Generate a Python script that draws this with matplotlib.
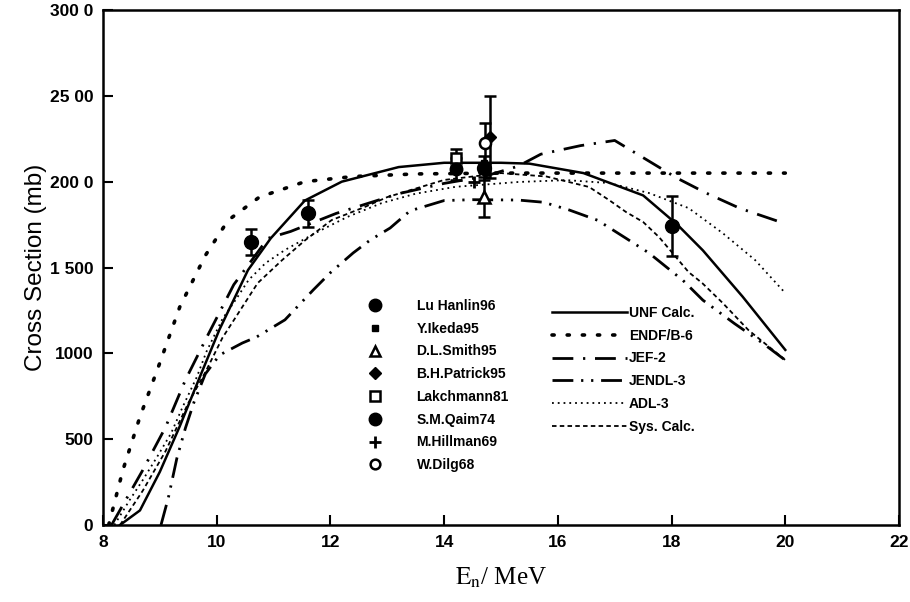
import matplotlib.pyplot as plt
from matplotlib.lines import Line2D

# ---- calculated / evaluated curves (E in MeV, sigma in mb) ----
unf_e = [8.3, 8.65, 9.0, 9.35, 9.7, 10.05, 10.55, 10.95, 11.55, 12.2, 13.2, 14.0,
         15.0, 15.5, 16.45, 17.5, 18.1, 18.55, 19.25, 20.0]
unf_v = [0, 85, 310, 575, 860, 1140, 1485, 1670, 1890, 2000, 2085, 2110,
         2110, 2105, 2050, 1920, 1750, 1600, 1330, 1020]

endf_e = [8.1, 8.35, 8.65, 9.0, 9.35, 9.8, 10.2, 10.75, 11.55, 12.4, 13.5, 15.0, 17.0, 20.0]
endf_v = [0, 320, 630, 945, 1270, 1570, 1775, 1910, 2000, 2030, 2045, 2050, 2050, 2050]

jef_e = [8.15, 8.7, 9.1, 9.45, 9.85, 10.3, 10.9, 11.3, 12.1, 13.2, 14.0, 14.7, 15.3,
         15.7, 16.4, 17.0, 17.5, 18.1, 18.6, 19.2, 20.0]
jef_v = [0, 320, 570, 845, 1110, 1400, 1670, 1710, 1815, 1930, 1990, 2030, 2090,
         2160, 2210, 2240, 2140, 2020, 1935, 1845, 1755]

jendl_e = [9.02, 9.15, 9.3, 9.45, 9.6, 9.8, 10.05, 10.45, 10.7, 11.2, 11.7, 12.0, 12.4,
           12.7, 13.05, 13.4, 14.0, 14.5, 15.3, 15.75, 16.2, 16.7, 17.2, 17.6, 18.2,
           18.55, 19.1, 19.6, 20.0]
jendl_v = [0, 160, 390, 565, 715, 880, 990, 1060, 1095, 1195, 1370, 1470, 1585,
           1660, 1730, 1830, 1890, 1895, 1893, 1880, 1835, 1775, 1670, 1585, 1425,
           1310, 1175, 1060, 960]

adl_e = [8.2, 8.47, 8.7, 8.95, 9.2, 9.4, 9.65, 9.82, 10.1, 10.35, 10.56, 10.86, 11.2,
         11.73, 12.3, 12.9, 13.5, 14.2, 15.3, 16.15, 16.9, 17.6, 18.3, 18.9, 19.47, 20.0]
adl_v = [0, 146, 262, 396, 536, 687, 862, 1010, 1200, 1320, 1427, 1526, 1602,
         1700, 1795, 1875, 1930, 1970, 1998, 2009, 1992, 1934, 1846, 1700, 1543, 1351]

sys_e = [8.3, 8.7, 9.1, 9.5, 9.8, 10.1, 10.45, 10.72, 11.15, 11.56, 12.02, 12.6, 13.0,
         14.0, 15.0, 15.8, 16.55, 16.9, 17.2, 17.5, 17.78, 18.3, 18.54, 18.9, 19.35, 20.0]
sys_v = [0, 200, 430, 710, 890, 1090, 1270, 1409, 1543, 1660, 1776, 1852, 1910,
         2010, 2050, 2030, 1969, 1893, 1823, 1765, 1677, 1473, 1409, 1293, 1136, 961]

# ---- measurements ----
hanlin_e = [10.6, 11.6, 14.7, 18.0]
hanlin_v = [1650, 1815, 2080, 1740]
hanlin_err = [75, 80, 70, 175]

ikeda_e = [14.7]
ikeda_v = [2110]

smith_e = [14.7]
smith_v = [1910]
smith_err = [115]

patrick_e = [14.8]
patrick_v = [2260]
patrick_err = [240]

lakch_e = [14.2]
lakch_v = [2140]
lakch_err = [50]

qaim_e = [14.2]
qaim_v = [2075]
qaim_err = [65]

hillman_e = [14.53]
hillman_v = [2000]

dilg_e = [14.72]
dilg_v = [2225]
dilg_err = [115]

ytick_vals = [0, 500, 1000, 1500, 2000, 2500, 3000]
ytick_labels = ["0", "500", "1000", "1 500", "200 0", "25 00", "300 0"]
xtick_vals = [8, 10, 12, 14, 16, 18, 20, 22]

plt.rcParams['font.family'] = ['Liberation Sans', 'DejaVu Sans']
plt.rcParams['mathtext.fontset'] = 'stix'

fig = plt.figure(figsize=(9.1, 6.02), dpi=100)
ax = fig.add_axes([103 / 910, 1 - 525 / 602, 796 / 910, 515 / 602])

# curves
styles = {
    "UNF Calc.": dict(ls="-", lw=1.8),
    "ENDF/B-6": dict(ls=(0, (0.6, 3.6)), lw=2.6, dash_capstyle="round"),
    "JEF-2": dict(ls=(0, (7.5, 3.5, 0.8, 3.5)), lw=2.0),
    "JENDL-3": dict(ls=(0, (7.5, 2.8, 0.8, 2.8, 0.8, 2.8)), lw=2.0),
    "ADL-3": dict(ls=(0, (1, 2.2)), lw=1.3),
    "Sys. Calc.": dict(ls=(0, (2.5, 1.8)), lw=1.3),
}
curves = [("UNF Calc.", unf_e, unf_v), ("ENDF/B-6", endf_e, endf_v),
          ("JEF-2", jef_e, jef_v), ("JENDL-3", jendl_e, jendl_v),
          ("ADL-3", adl_e, adl_v), ("Sys. Calc.", sys_e, sys_v)]
line_handles = []
for name, e, v in curves:
    h, = ax.plot(e, v, color="k", label=name, **styles[name])
    line_handles.append(h)

# data points with error bars
eb = dict(color="k", ecolor="k", elinewidth=1.8, capsize=4.5, capthick=1.8, ls="none")
ax.errorbar(lakch_e, lakch_v, yerr=lakch_err, fmt="s", ms=7, mfc="white", mew=1.8, **eb)
ax.errorbar(qaim_e, qaim_v, yerr=qaim_err, fmt="o", ms=9, **eb)
ax.errorbar(smith_e, smith_v, yerr=smith_err, fmt="^", ms=8, mfc="white", mew=1.8, **eb)
ax.errorbar(patrick_e, patrick_v, yerr=patrick_err, fmt="D", ms=6, **eb)
ax.errorbar(dilg_e, dilg_v, yerr=dilg_err, fmt="o", ms=8, mfc="white", mew=1.8, **eb)
ax.errorbar(hanlin_e, hanlin_v, yerr=hanlin_err, fmt="o", ms=10, **eb)
ax.plot(ikeda_e, ikeda_v, "s", color="k", ms=4)
ax.plot(hillman_e, hillman_v, "+", color="k", ms=9, mew=2)

ax.set_xlim(8, 22)
ax.set_ylim(0, 3000)
ax.set_xticks(xtick_vals)
ax.set_yticks(ytick_vals)
ax.set_yticklabels(ytick_labels)
ax.tick_params(direction="in", length=7, width=1.5, labelsize=12.5, pad=7)
for lab in ax.get_xticklabels() + ax.get_yticklabels():
    lab.set_fontweight("bold")
for sp in ax.spines.values():
    sp.set_linewidth(1.8)

ax.set_ylabel("Cross Section (mb)", fontsize=17.5, labelpad=2)
ax.set_xlabel(r"$\mathrm{E_n}$/ MeV", fontsize=18, family="Liberation Serif", labelpad=11)

# legends
mk = dict(color="k", ls="none")
marker_handles = [
    Line2D([], [], marker="o", ms=9, **mk),
    Line2D([], [], marker="s", ms=4, **mk),
    Line2D([], [], marker="^", ms=7, mfc="white", mew=1.8, **mk),
    Line2D([], [], marker="D", ms=6, **mk),
    Line2D([], [], marker="s", ms=7, mfc="white", mew=1.8, **mk),
    Line2D([], [], marker="o", ms=9, **mk),
    Line2D([], [], marker="+", ms=9, mew=2, **mk),
    Line2D([], [], marker="o", ms=7, mfc="white", mew=1.8, **mk),
]
marker_labels = ["Lu Hanlin96", "Y.Ikeda95", "D.L.Smith95", "B.H.Patrick95",
                 "Lakchmann81", "S.M.Qaim74", "M.Hillman69", "W.Dilg68"]
leg1 = ax.legend(marker_handles, marker_labels, loc="upper left",
                 bbox_to_anchor=(0.3329, 0.4390), frameon=False, borderpad=0,
                 borderaxespad=0, handlelength=1.0, handletextpad=2.5,
                 labelspacing=0.63, prop=dict(size=10, weight="bold"))
ax.add_artist(leg1)
ax.legend(line_handles, [c[0] for c in curves], loc="upper left",
          bbox_to_anchor=(0.5641, 0.4254), frameon=False, borderpad=0,
          borderaxespad=0, handlelength=5.4, handletextpad=0.15,
          labelspacing=0.63, prop=dict(size=10, weight="bold"))

fig.savefig("out.png", dpi=100)
